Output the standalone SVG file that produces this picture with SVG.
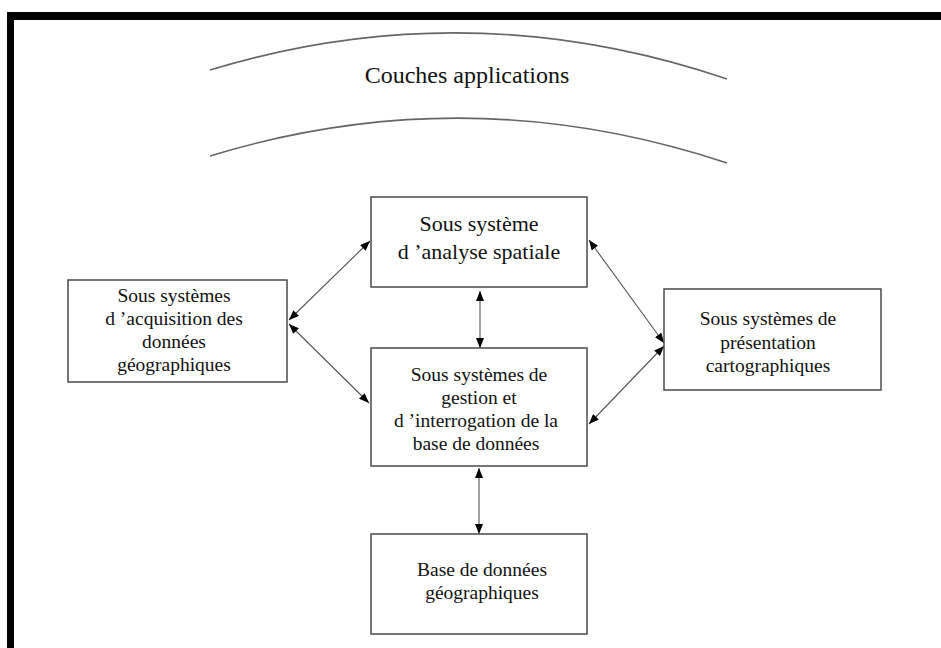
<svg xmlns="http://www.w3.org/2000/svg" width="941" height="648" viewBox="0 0 941 648">
<style>
.box{fill:#fff;stroke:#4a4a4a;stroke-width:1.5}
.t{font-family:"Liberation Serif","Times New Roman",serif;font-size:19.5px;fill:#111;text-anchor:middle}
.arc{fill:none;stroke:#666;stroke-width:1.6}
.con{fill:none;stroke:#555;stroke-width:1.1;marker-start:url(#ah);marker-end:url(#ah)}
</style>
<defs>
<marker id="ah" markerUnits="userSpaceOnUse" markerWidth="11" markerHeight="8" refX="10" refY="4" orient="auto-start-reverse">
<path d="M0,0 L10,4 L0,8 z" fill="#000"/>
</marker>
</defs>
<rect x="0" y="0" width="941" height="648" fill="#fff"/>
<g id="frame">
<rect x="7" y="12" width="934" height="8" fill="#000"/>
<rect x="7" y="12" width="7" height="636" fill="#000"/>
</g>
<g id="layers">
<path class="arc" d="M210,70 Q468.5,-8.5 727,79"/>
<path class="arc" d="M210,156 Q468.5,77 727,163"/>
<text x="467" y="83" class="t" style="font-size:24px">Couches applications</text>
</g>
<g id="connectors">
<line class="con" x1="289" y1="320" x2="370" y2="241"/>
<line class="con" x1="289" y1="324" x2="369" y2="403"/>
<line class="con" x1="480" y1="291" x2="480" y2="348"/>
<line class="con" x1="479" y1="468" x2="479" y2="534"/>
<line class="con" x1="664" y1="343" x2="589" y2="240"/>
<line class="con" x1="664" y1="346" x2="589" y2="424"/>
</g>
<g id="analyse">
<rect class="box" x="371" y="197" width="216" height="90"/>
<text class="t" x="479" y="231" style="font-size:22px">Sous système</text>
<text class="t" x="479" y="259" style="font-size:22px">d ’analyse spatiale</text>
</g>
<g id="acquisition">
<rect class="box" x="68" y="280" width="219" height="102"/>
<text class="t" x="174" y="302">Sous systèmes</text>
<text class="t" x="174" y="325">d ’acquisition des</text>
<text class="t" x="174" y="348">données</text>
<text class="t" x="174" y="371">géographiques</text>
</g>
<g id="gestion">
<rect class="box" x="371" y="348" width="216" height="118"/>
<text class="t" x="479" y="381">Sous systèmes de</text>
<text class="t" x="479" y="404">gestion et</text>
<text class="t" x="476" y="427">d ’interrogation de la</text>
<text class="t" x="476" y="450">base de données</text>
</g>
<g id="presentation">
<rect class="box" x="664" y="289" width="217" height="101"/>
<text class="t" x="768" y="325">Sous systèmes de</text>
<text class="t" x="768" y="349">présentation</text>
<text class="t" x="768" y="372">cartographiques</text>
</g>
<g id="base">
<rect class="box" x="371" y="534" width="216" height="100"/>
<text class="t" x="482" y="576">Base de données</text>
<text class="t" x="482" y="599">géographiques</text>
</g>
</svg>
